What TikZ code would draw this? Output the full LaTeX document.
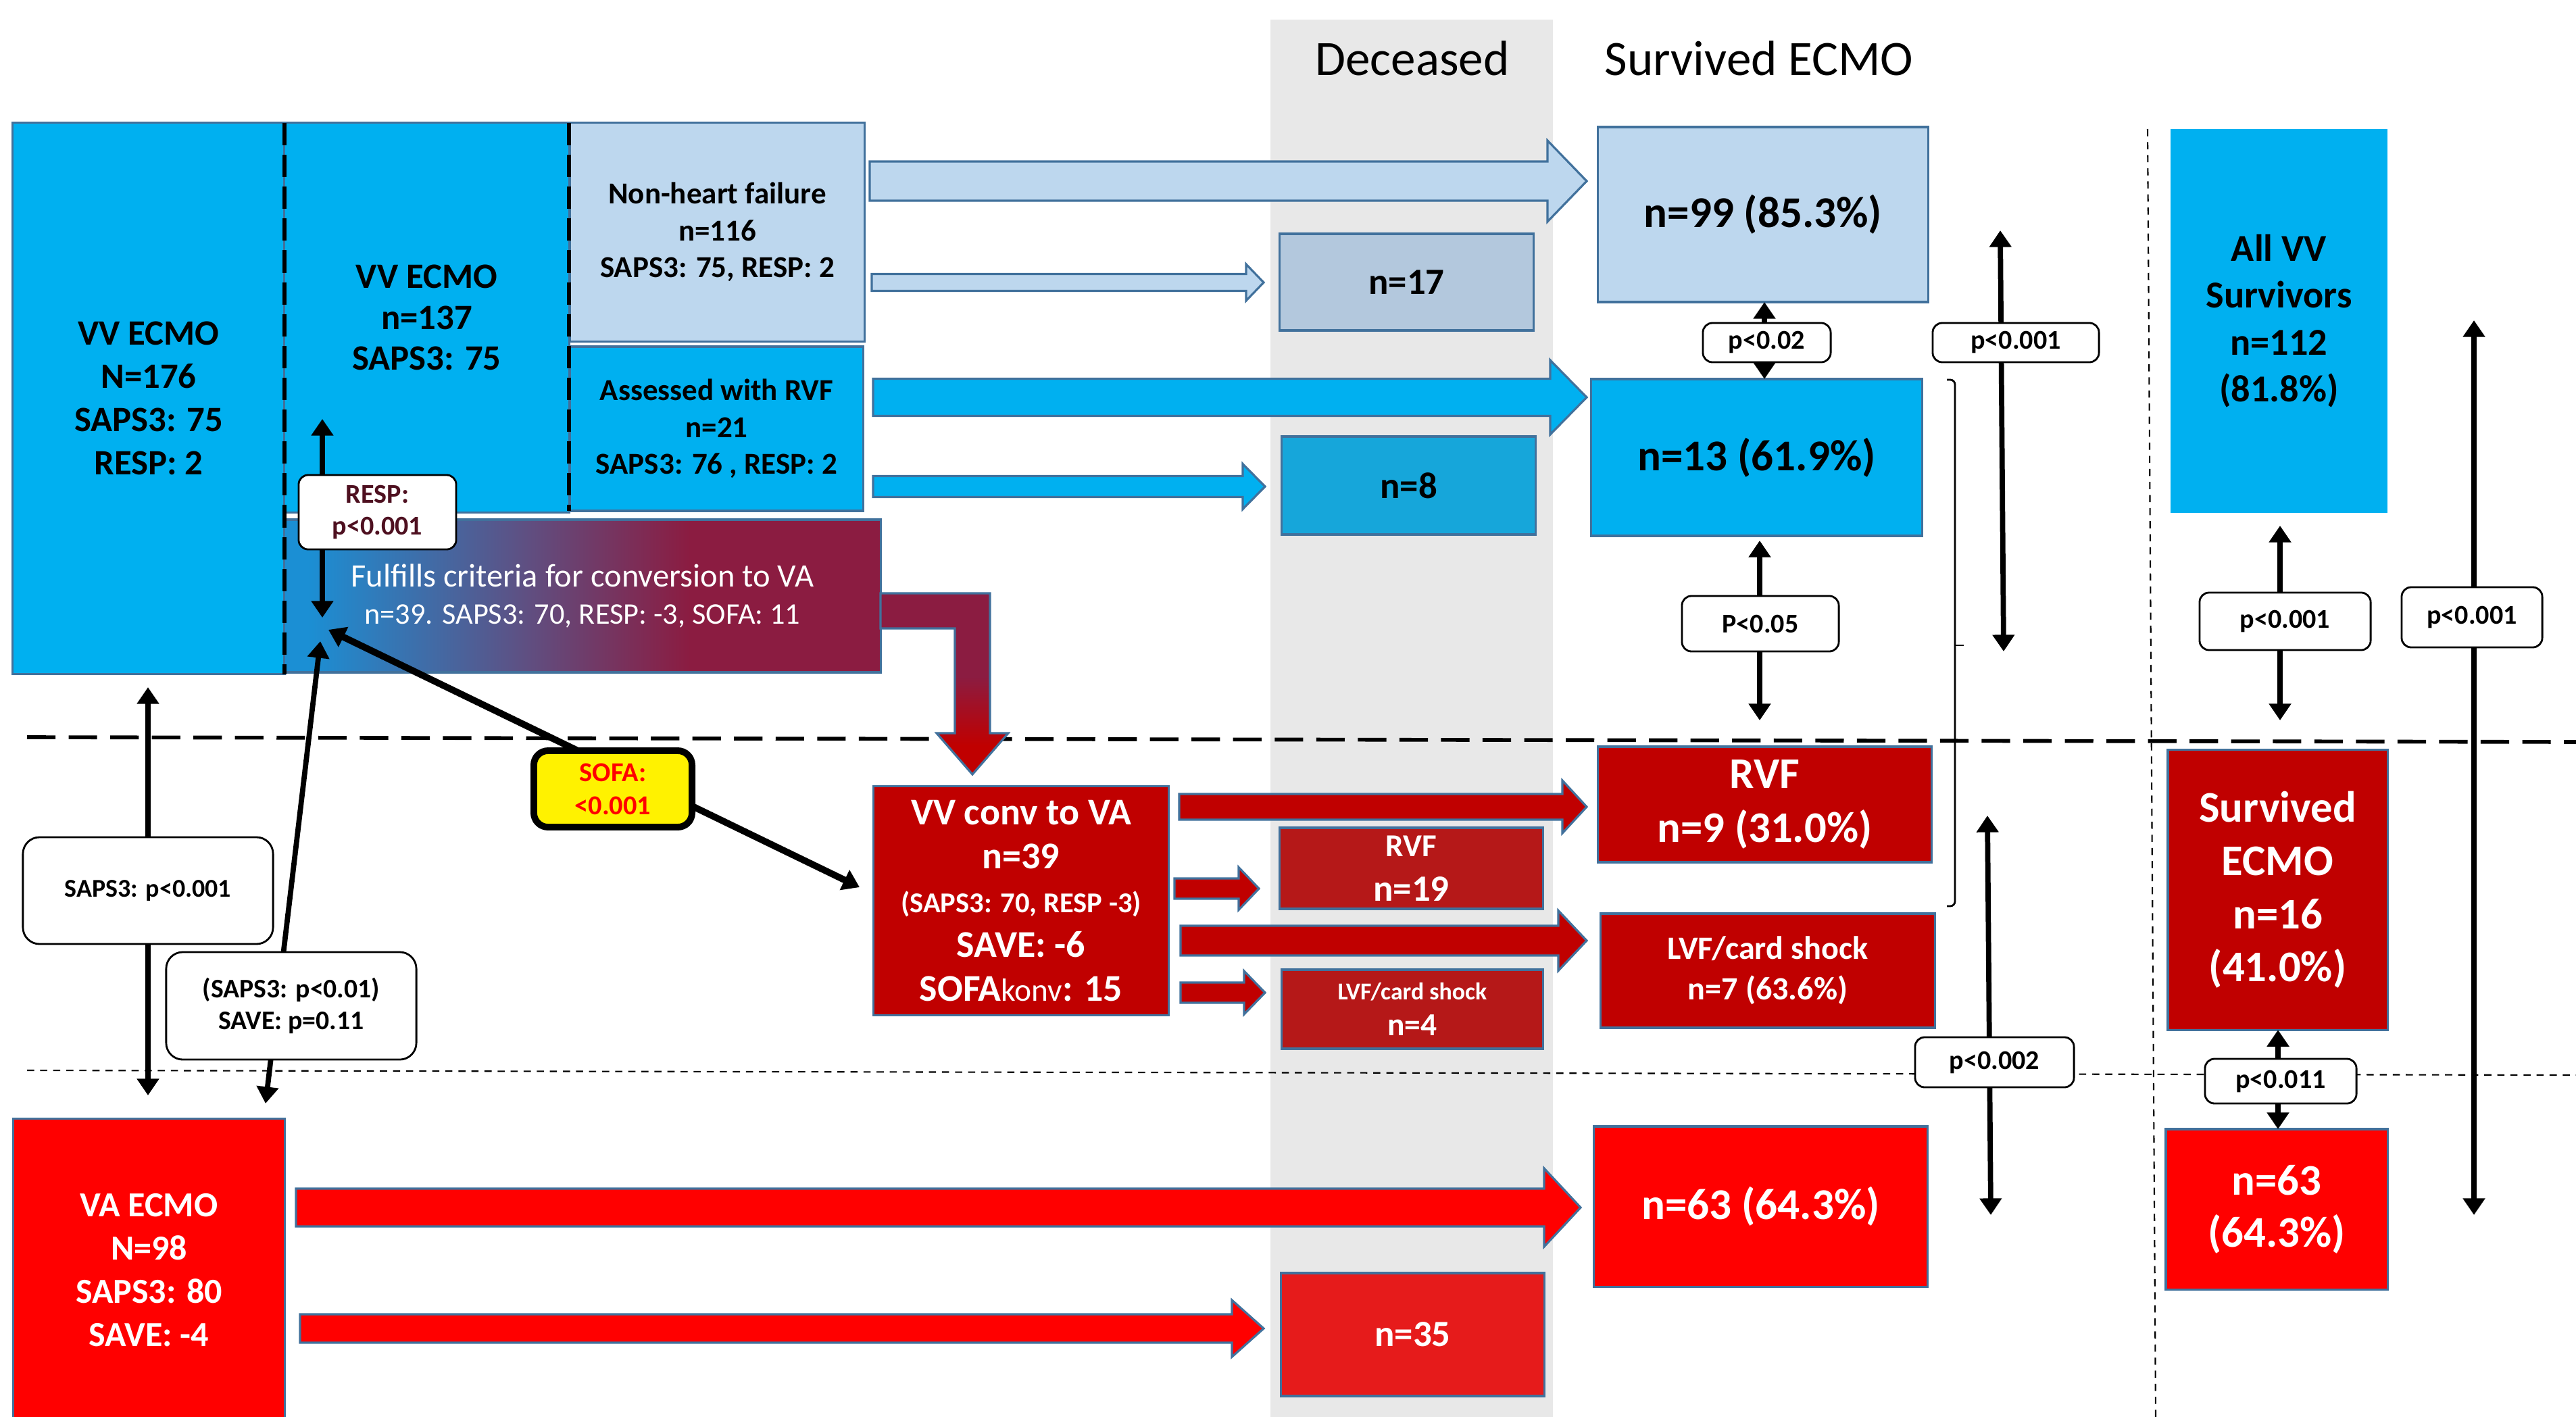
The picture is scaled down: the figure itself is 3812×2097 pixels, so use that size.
\documentclass[tikz,border=0pt]{standalone}
\usepackage{fontspec}
\setmainfont{Carlito}
\usetikzlibrary{arrows.meta}

\definecolor{lb}{HTML}{BDD7EE}
\definecolor{cy}{HTML}{00B0F0}
\definecolor{bd}{HTML}{41719C}
\definecolor{dr}{HTML}{C00000}
\definecolor{rr}{HTML}{FF0000}
\definecolor{gy}{HTML}{E8E8E8}
\definecolor{nsevc}{HTML}{B3C8DD}
\definecolor{neic}{HTML}{16A6DA}
\definecolor{decr}{HTML}{B51818}
\definecolor{ntfc}{HTML}{E61B1B}
\definecolor{mrn}{HTML}{8B1C41}
\definecolor{gblue}{HTML}{1B8FD4}
\definecolor{gmid}{HTML}{5E5083}
\definecolor{resptxt}{HTML}{4E1020}

\pgfdeclarehorizontalshading{gradvv}{100bp}{color(0bp)=(gblue); color(27bp)=(gblue); color(45bp)=(gmid); color(59bp)=(mrn); color(100bp)=(mrn)}
\pgfdeclareverticalshading{bentsh}{100bp}{color(0bp)=(dr); color(33bp)=(dr); color(52bp)=(mrn); color(100bp)=(mrn)}

\newcommand\blk[7]{%
  \filldraw[fill=#7, draw=bd, line width=0.9pt] (#1,#4-#5) -- (#2,#4-#5) -- (#2,#4-#6) -- (#3,#4) -- (#2,#4+#6) -- (#2,#4+#5) -- (#1,#4+#5) -- cycle;}
% name, x1, y1, x2, y2, options, text
\newcommand\bxn[7]{%
  \node[#6, minimum width={(#4-#2)*0.1mm}, minimum height={(#5-#3)*0.1mm}] (#1) at ({(#2+#4)/2},{(#3+#5)/2}) {#7};}

\tikzset{
  bx/.style={draw=bd, line width=0.9pt, inner sep=0pt, outer sep=0pt, align=center},
  lab/.style={draw=black, fill=white, line width=0.8pt, rounded corners=4pt, inner sep=0pt, outer sep=0pt, align=center, font=\fontsize{11.4}{13.5}\selectfont\bfseries},
  dbl/.style={line width=2.2pt, >={Triangle[length=7pt,width=9pt]}, <->},
}

\begin{document}
\begin{tikzpicture}[x=0.01cm, y=-0.01cm]
\useasboundingbox (0,0) rectangle (3812,2097);
\fill[white] (0,0) rectangle (3812,2097);

% deceased column
\fill[gy] (1880,29) rectangle (2298,2097);

% headers
\node[font=\fontsize{20.8}{25}\selectfont, anchor=base] (hdec) at (2090,112) {Deceased};
\node[font=\fontsize{20.8}{25}\selectfont, anchor=base] (hsurv) at (2603,112) {Survived ECMO};

% separator lines
\draw[line width=1.6pt, dash pattern=on 12pt off 5.5pt] (40,1091) -- (3812,1098);
\draw[line width=0.6pt, dash pattern=on 3pt off 2.5pt] (40,1584) -- (3812,1591);
\draw[line width=0.6pt, dash pattern=on 3pt off 2.5pt] (3178,191) -- (3190,2097);

% left boxes
\bxn{vvall}{19}{182}{421}{997}{bx, fill=cy, font=\fontsize{15}{18.2}\selectfont\bfseries}{VV ECMO\\N=176\\SAPS3: 75\\RESP: 2}
\bxn{vvsub}{421}{182}{842}{758}{bx, fill=cy, font=\fontsize{15}{17.2}\selectfont\bfseries}{VV ECMO\\n=137\\SAPS3: 75}
\bxn{nhf}{844}{182}{1279}{505}{bx, fill=lb, font=\fontsize{12.8}{15.5}\selectfont\bfseries}{Non-heart failure\\n=116\\SAPS3: 75, RESP: 2}
\bxn{rvfa}{844}{513}{1277}{756}{bx, fill=cy, font=\fontsize{12.8}{15.5}\selectfont\bfseries}{Assessed with RVF\\n=21\\SAPS3: 76 , RESP: 2}
\bxn{grad}{421}{769}{1303}{995}{bx, shade, shading=gradvv, text=white, font=\fontsize{13.8}{15.6}\selectfont}{Fulfills criteria for conversion to VA\\{\fontsize{12.6}{15.6}\selectfont n=39. SAPS3: 70, RESP: -3, SOFA: 11}}
\bxn{vaecmo}{20}{1656}{421}{2104}{bx, fill=rr, text=white, font=\fontsize{14.8}{18.2}\selectfont\bfseries}{VA ECMO\\N=98\\SAPS3: 80\\SAVE: -4}
\bxn{vvconv}{1293}{1164}{1729}{1502}{bx, fill=dr, text=white, font=\fontsize{15.9}{18.5}\selectfont\bfseries}{VV conv to VA\\n=39\\{\fontsize{12.1}{18.5}\selectfont (SAPS3: 70, RESP -3)}\\SAVE: -6\\SOFA{\mdseries\fontsize{13.5}{18.5}\selectfont konv}: 15}

% deceased boxes
\bxn{dseventeen}{1894}{346}{2269}{489}{bx, fill=nsevc, font=\fontsize{15.6}{18.8}\selectfont\bfseries}{n=17}
\bxn{deight}{1897}{646}{2272}{791}{bx, fill=neic, font=\fontsize{15.6}{18.8}\selectfont\bfseries}{n=8}
\bxn{drvf}{1894}{1225}{2283}{1345}{bx, fill=decr, text=white, font=\fontsize{15.6}{18.8}\selectfont\bfseries}{{\fontsize{13.4}{18.8}\selectfont RVF}\\n=19}
\bxn{dlvf}{1897}{1435}{2283}{1552}{bx, fill=decr, text=white, font=\fontsize{13.5}{15}\selectfont\bfseries}{{\fontsize{10.2}{15}\selectfont LVF/card shock}\\n=4}
\bxn{dthirtyfive}{1896}{1884}{2285}{2066}{bx, fill=ntfc, text=white, font=\fontsize{15.6}{18.8}\selectfont\bfseries}{n=35}

% survived boxes
\bxn{sninetynine}{2365}{188}{2853}{447}{bx, fill=lb, font=\fontsize{18.5}{22.5}\selectfont\bfseries}{n=99 (85.3\%)}
\bxn{sthirteen}{2355}{561}{2844}{793}{bx, fill=cy, font=\fontsize{18.5}{22.5}\selectfont\bfseries}{n=13 (61.9\%)}
\bxn{srvf}{2365}{1105}{2858}{1276}{bx, fill=dr, text=white, font=\fontsize{18.4}{22.8}\selectfont\bfseries}{RVF\\n=9 (31.0\%)}
\bxn{slvf}{2369}{1352}{2863}{1521}{bx, fill=dr, text=white, font=\fontsize{13.7}{17}\selectfont\bfseries}{LVF/card shock\\n=7 (63.6\%)}
\bxn{ssixtythree}{2359}{1667}{2852}{1904}{bx, fill=rr, text=white, font=\fontsize{18.5}{22.5}\selectfont\bfseries}{n=63 (64.3\%)}

% right column
\bxn{allvv}{3212}{191}{3533}{759}{bx, draw=none, fill=cy, font=\fontsize{16}{19.7}\selectfont\bfseries}{All VV\\Survivors\\n=112\\(81.8\%)}
\bxn{svsixteen}{3208}{1110}{3533}{1524}{bx, fill=dr, text=white, font=\fontsize{18.4}{22.4}\selectfont\bfseries}{Survived\\ECMO\\n=16\\(41.0\%)}
\bxn{srsixtythree}{3205}{1671}{3533}{1908}{bx, fill=rr, text=white, font=\fontsize{18.4}{21.9}\selectfont\bfseries}{n=63\\(64.3\%)}

% block arrows
\blk{1287}{2290}{2348}{268}{29}{60}{lb}
\blk{1290}{1844}{1870}{418}{12.5}{27}{lb}
\blk{1292}{2294}{2348}{588}{27.5}{55}{cy}
\blk{1292}{1839}{1872}{720}{15.5}{33.5}{cy}
\blk{1745}{2312}{2348}{1194}{19}{39}{dr}
\blk{1738}{1833}{1863}{1315}{15}{31.5}{dr}
\blk{1747}{2306}{2348}{1392}{22}{44.5}{dr}
\blk{1747}{1841}{1872}{1469}{15}{32}{dr}
\blk{438}{2285}{2339}{1787}{28}{58}{rr}
\blk{444}{1823}{1870}{1966}{21}{42}{rr}

% bent arrow
\shadedraw[shading=bentsh, draw=bd, line width=0.9pt] (1303,878) -- (1465,878) -- (1465,1085) -- (1492,1085) -- (1439,1146) -- (1386,1085) -- (1413,1085) -- (1413,930) -- (1303,930) -- cycle;

% dashed borders
\draw[line width=1.7pt, dash pattern=on 9.4pt off 4pt] (421,182) -- (421,998);
\draw[line width=1.7pt, dash pattern=on 9.4pt off 4pt] (842,182) -- (842,756);

% bracket
\draw[line width=0.8pt, rounded corners=2pt] (2881,562) -- (2893,562) -- (2893,1341) -- (2881,1341);
\draw[line width=0.8pt] (2893,955) -- (2906,955);

% connector end points
\coordinate (ra) at (477,620);
\coordinate (rb) at (477,914);
\coordinate (sa) at (219,1017);
\coordinate (sb) at (219,1621);
\coordinate (ta) at (474,949);
\coordinate (tb) at (393,1633);
\coordinate (ua) at (486,932);
\coordinate (ub) at (1272,1313);
\coordinate (va) at (2960,341);
\coordinate (vb) at (2965,964);
\coordinate (wa) at (2604,800);
\coordinate (wb) at (2604,1066);
\coordinate (xa) at (2941,1207);
\coordinate (xb) at (2946,1798);
\coordinate (ya) at (3374,778);
\coordinate (yb) at (3374,1066);
\coordinate (za) at (3661,474);
\coordinate (zb) at (3661,1798);

% connectors
\draw[dbl] (ra) -- (rb);
\draw[dbl] (sa) -- (sb);
\draw[dbl] (ta) -- (tb);
\draw[dbl, line width=2.8pt] (ua) -- (ub);
\draw[dbl] (va) -- (vb);
\draw[dbl] (wa) -- (wb);
\draw[dbl] (xa) -- (xb);
\draw[dbl] (ya) -- (yb);
\draw[dbl] (za) -- (zb);
\draw[dbl] (2611,447 |- sninetynine.south) -- (2611,447 |- sthirteen.north);
\draw[dbl] (3371,0 |- svsixteen.south) -- (3371,0 |- srsixtythree.north);

% labels
\bxn{lresp}{442}{703}{675}{813}{lab, text=resptxt}{RESP:\\p<0.001}
\bxn{lsaps}{34}{1239}{404}{1397}{lab, rounded corners=7pt, font=\fontsize{10.8}{13}\selectfont\bfseries}{SAPS3: p<0.001}
\bxn{lsapsb}{246}{1409}{616}{1568}{lab, rounded corners=7pt, font=\fontsize{11.3}{13.4}\selectfont\bfseries}{(SAPS3: p<0.01)\\SAVE: p=0.11}
\bxn{lsofa}{790}{1111}{1024}{1224}{lab, fill=yellow, text=rr, line width=2.8pt, rounded corners=6pt, font=\fontsize{11.5}{14}\selectfont\bfseries}{SOFA:\\<0.001}
\bxn{lpa}{2520}{478}{2709}{536}{lab}{p<0.02}
\bxn{lpb}{2860}{478}{3106}{536}{lab}{p<0.001}
\bxn{lpc}{2489}{882}{2721}{964}{lab}{P<0.05}
\bxn{lpd}{2834}{1535}{3069}{1609}{lab}{p<0.002}
\bxn{lpe}{3255}{877}{3508}{962}{lab}{p<0.001}
\bxn{lpf}{3554}{869}{3762}{958}{lab}{p<0.001}
\bxn{lpg}{3263}{1567}{3487}{1633}{lab}{p<0.011}
\end{tikzpicture}
\end{document}
